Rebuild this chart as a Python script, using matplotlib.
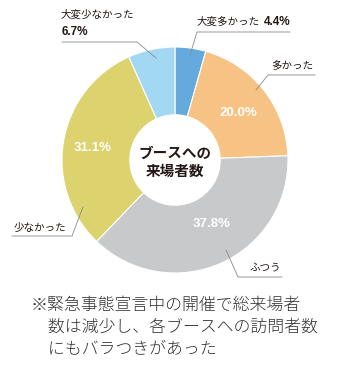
import matplotlib
matplotlib.use('Agg')
import matplotlib.pyplot as plt

plt.rcParams['font.family'] = ['Noto Sans CJK JP', 'DejaVu Sans']

# データ（時計回り、12時から）
categories = ['大変多かった', '多かった', 'ふつう', '少なかった', '大変少なかった']
values = [4.4, 20.0, 37.8, 31.1, 6.7]
colors = ['#66a9dc', '#f7c385', '#c8c9ca', '#dcd26e', '#a3d8f3']

W, H = 350, 375
CX, CY, R = 175, 215, 113

fig = plt.figure(figsize=(W / 100, H / 100), dpi=100)
ax = fig.add_axes([0, 0, 1, 1])
ax.pie(values, colors=colors, startangle=90, counterclock=False,
       center=(CX, CY), radius=R,
       wedgeprops=dict(width=R * 0.6, edgecolor='white', linewidth=0.8))
ax.set_xlim(0, W)
ax.set_ylim(0, H)
ax.set_aspect('equal')
ax.axis('off')

# 中央テキスト
ax.text(CX, CY - 2, 'ブースへの\n来場者数', ha='center', va='center',
        fontsize=10.5, fontweight='bold', color='#231815', linespacing=1.2)

num_font = ['Liberation Sans', 'DejaVu Sans']

# 内側のパーセント（白）
inner = [(1, 238, 262), (3, 93, 227), (2, 212, 151)]
for i, x, y in inner:
    ax.text(x, y, f'{values[i]:.1f}%', ha='center', va='center', color='white',
            fontsize=9.5, fontweight='bold', family=num_font)

# 引き出し線: (始点, 折れ点, 終点)
lc = '#8a8a8a'
leaders = [
    [(190, 320), (197, 343), (290, 343)],
    [(256, 285), (268, 300), (315, 300)],
    [(226, 125), (238, 98), (282, 98)],
    [(83, 168), (72, 139), (12, 139)],
    [(156, 317), (137, 333), (62, 333)],
]
for pts in leaders:
    xs, ys = zip(*pts)
    ax.plot(xs, ys, color=lc, lw=0.6)

tc = '#231815'
fs = 7.6
ax.text(197, 353, categories[0], ha='left', va='center', fontsize=fs, color=tc)
ax.text(264, 353, f'{values[0]:.1f}%', ha='left', va='center', fontsize=8.5,
        fontweight='bold', color=tc, family=num_font)
ax.text(271, 308, categories[1], ha='left', va='center', fontsize=fs, color=tc)
ax.text(250, 107, categories[2], ha='left', va='center', fontsize=fs, color=tc)
ax.text(14, 147, categories[3], ha='left', va='center', fontsize=fs, color=tc)
ax.text(61, 360, categories[4], ha='left', va='center', fontsize=fs, color=tc)
ax.text(62, 343, f'{values[4]:.1f}%', ha='left', va='center', fontsize=8.5,
        fontweight='bold', color=tc, family=num_font)

# 注記
note = ['※緊急事態宣言中の開催で総来場者',
        '　数は減少し、各ブースへの訪問者数',
        '　にもバラつきがあった']
for k, line in enumerate(note):
    ax.text(31, 70 - k * 22.5, line, ha='left', va='center', fontsize=12.2,
            fontweight='light', color='#333333')

fig.savefig('out.png', dpi=100)
